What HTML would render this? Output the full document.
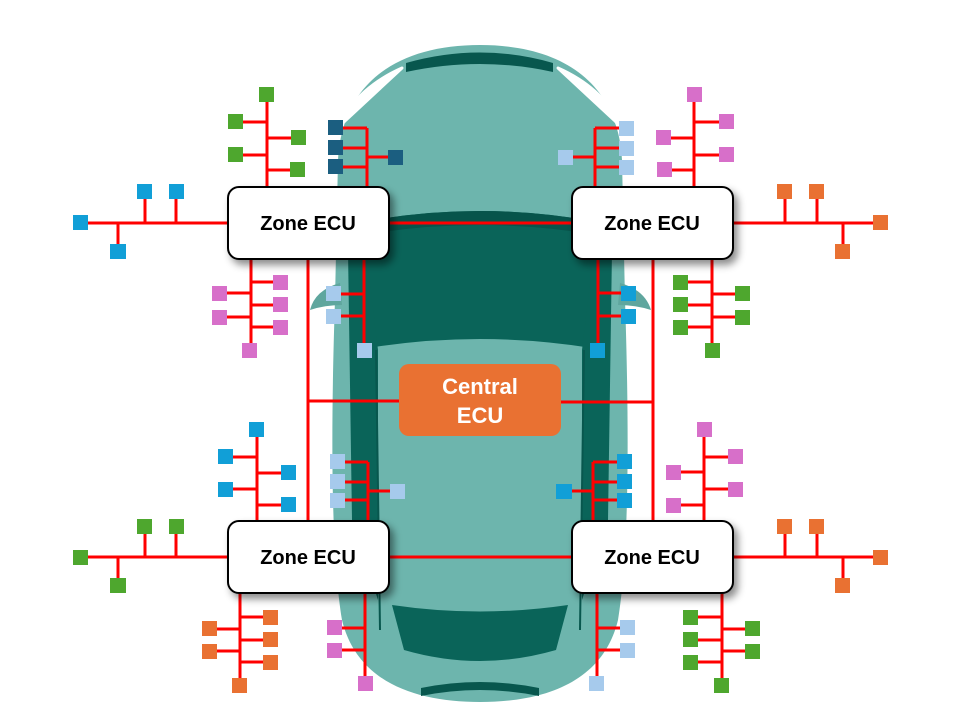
<!DOCTYPE html>
<html><head><meta charset="utf-8"><style>
html,body{margin:0;padding:0;background:#fff;}
svg{display:block;}
.r{stroke:#FF0000;stroke-width:3;fill:none;}
.zt{font-family:"Liberation Sans",sans-serif;font-weight:bold;font-size:20px;fill:#000;}
</style></head><body>
<svg width="960" height="720" viewBox="0 0 960 720" xmlns="http://www.w3.org/2000/svg">
<defs>
<filter id="sh" x="-20%" y="-20%" width="150%" height="160%"><feDropShadow dx="4" dy="5" stdDeviation="4" flood-color="#000" flood-opacity="0.45"/></filter>
</defs>
<!-- car -->
<path d="M 480 45 C 565 45 618 85 622 160 L 625 300 C 630 450 628 560 618 620 C 603 682 545 702 480 702 C 415 702 357 682 342 620 C 332 560 330 450 335 300 L 338 160 C 342 85 395 45 480 45 Z" fill="#6DB5AD"/>
<path d="M 406 63 Q 480 42 553 63 L 553 72 Q 480 56 406 72 Z" fill="#08574E"/>
<path d="M 344 122 C 350 100 375 80 402 68 L 346 120 Z" fill="#fff" stroke="#fff" stroke-width="3" stroke-linejoin="round"/>
<path d="M 616 122 C 610 100 585 80 558 68 L 614 120 Z" fill="#fff" stroke="#fff" stroke-width="3" stroke-linejoin="round"/>
<!-- mirrors -->
<path d="M 340 283 Q 315 290 310 310 Q 325 305 342 305 Z" fill="#5FA69E"/>
<path d="M 620 283 Q 645 290 651 310 Q 636 305 618 305 Z" fill="#5FA69E"/>
<!-- windshield -->
<path d="M 362 222 Q 480 200 598 222 L 592 348 Q 480 330 368 348 Z" fill="#0A6459"/>
<path d="M 362 222 Q 480 200 598 222 L 597 235 Q 480 215 363 235 Z" fill="#07544B"/>
<!-- side dark strips -->
<path d="M 348 250 L 366 250 L 378 350 L 378 600 L 352 520 Z" fill="#0A6459"/>
<path d="M 612 250 L 594 250 L 582 350 L 582 600 L 608 520 Z" fill="#0A6459"/>
<path d="M 376 350 L 380 630 M 584 350 L 580 630" stroke="#08574E" stroke-width="2"/>
<!-- rear window -->
<path d="M 392 605 Q 480 618 568 605 L 556 650 Q 480 672 404 650 Z" fill="#0A6459"/>
<path d="M 421 688 Q 480 676 539 688 L 539 696 Q 480 684 421 696 Z" fill="#08574E"/>

<!-- long verticals & center buses -->
<path class="r" d="M308 259 V521 M653 259 V521 M308 401 H399 M561 402 H653 M389 223 H571 M389 557 H571"/>

<!-- TL -->
<path class="r" d="M80 223 H227 M145 223 V199 M176 223 V199 M118 223 V244
M267 187 V102 M267 122 H243 M267 155 H243 M267 138 H291 M267 170 H290
M367 187 V128 M367 128 H343 M367 148 H343 M367 167 H343 M367 157 H388
M251 259 V343 M251 282 H273 M251 305 H273 M251 327 H273 M251 293 H227 M251 317 H227
M364 259 V343 M364 294 H341 M364 316 H341"/>
<g fill="#119FD7"><rect x="73" y="215" width="15" height="15"/><rect x="137" y="184" width="15" height="15"/><rect x="169" y="184" width="15" height="15"/><rect x="110" y="244" width="16" height="15"/></g>
<g fill="#4EA72E"><rect x="259" y="87" width="15" height="15"/><rect x="228" y="114" width="15" height="15"/><rect x="228" y="147" width="15" height="15"/><rect x="291" y="130" width="15" height="15"/><rect x="290" y="162" width="15" height="15"/></g>
<g fill="#1B5E80"><rect x="328" y="120" width="15" height="15"/><rect x="328" y="140" width="15" height="15"/><rect x="328" y="159" width="15" height="15"/><rect x="388" y="150" width="15" height="15"/></g>
<g fill="#D76FC9"><rect x="242" y="343" width="15" height="15"/><rect x="273" y="275" width="15" height="15"/><rect x="273" y="297" width="15" height="15"/><rect x="273" y="320" width="15" height="15"/><rect x="212" y="286" width="15" height="15"/><rect x="212" y="310" width="15" height="15"/></g>
<g fill="#A6CAEC"><rect x="357" y="343" width="15" height="15"/><rect x="326" y="286" width="15" height="15"/><rect x="326" y="309" width="15" height="15"/></g>

<!-- TR -->
<path class="r" d="M733 223 H880 M785 223 V199 M817 223 V199 M843 223 V244
M595 187 V128 M595 128 H619 M595 148 H619 M595 167 H619 M595 157 H573
M694 187 V102 M694 122 H719 M694 155 H719 M694 138 H671 M694 170 H672
M598 259 V343 M598 293 H621 M598 316 H621
M712 259 V343 M712 282 H688 M712 305 H688 M712 327 H688 M712 294 H735 M712 317 H735"/>
<g fill="#E97132"><rect x="873" y="215" width="15" height="15"/><rect x="777" y="184" width="15" height="15"/><rect x="809" y="184" width="15" height="15"/><rect x="835" y="244" width="15" height="15"/></g>
<g fill="#A6CAEC"><rect x="619" y="121" width="15" height="15"/><rect x="619" y="141" width="15" height="15"/><rect x="619" y="160" width="15" height="15"/><rect x="558" y="150" width="15" height="15"/></g>
<g fill="#D76FC9"><rect x="687" y="87" width="15" height="15"/><rect x="719" y="114" width="15" height="15"/><rect x="719" y="147" width="15" height="15"/><rect x="656" y="130" width="15" height="15"/><rect x="657" y="162" width="15" height="15"/></g>
<g fill="#119FD7"><rect x="590" y="343" width="15" height="15"/><rect x="621" y="286" width="15" height="15"/><rect x="621" y="309" width="15" height="15"/></g>
<g fill="#4EA72E"><rect x="705" y="343" width="15" height="15"/><rect x="673" y="275" width="15" height="15"/><rect x="673" y="297" width="15" height="15"/><rect x="673" y="320" width="15" height="15"/><rect x="735" y="286" width="15" height="15"/><rect x="735" y="310" width="15" height="15"/></g>

<!-- BL -->
<path class="r" d="M80 557 H227 M145 557 V534 M176 557 V534 M118 557 V578
M257 521 V437 M257 457 H233 M257 489 H233 M257 473 H281 M257 505 H281
M368 521 V462 M368 462 H345 M368 482 H345 M368 500 H345 M368 491 H390
M240 593 V678 M240 617 H263 M240 640 H263 M240 662 H263 M240 629 H217 M240 651 H217
M365 593 V676 M365 628 H342 M365 650 H342"/>
<g fill="#4EA72E"><rect x="73" y="550" width="15" height="15"/><rect x="137" y="519" width="15" height="15"/><rect x="169" y="519" width="15" height="15"/><rect x="110" y="578" width="16" height="15"/></g>
<g fill="#119FD7"><rect x="249" y="422" width="15" height="15"/><rect x="218" y="449" width="15" height="15"/><rect x="218" y="482" width="15" height="15"/><rect x="281" y="465" width="15" height="15"/><rect x="281" y="497" width="15" height="15"/></g>
<g fill="#A6CAEC"><rect x="330" y="454" width="15" height="15"/><rect x="330" y="474" width="15" height="15"/><rect x="330" y="493" width="15" height="15"/><rect x="390" y="484" width="15" height="15"/></g>
<g fill="#E97132"><rect x="232" y="678" width="15" height="15"/><rect x="263" y="610" width="15" height="15"/><rect x="263" y="632" width="15" height="15"/><rect x="263" y="655" width="15" height="15"/><rect x="202" y="621" width="15" height="15"/><rect x="202" y="644" width="15" height="15"/></g>
<g fill="#D76FC9"><rect x="358" y="676" width="15" height="15"/><rect x="327" y="620" width="15" height="15"/><rect x="327" y="643" width="15" height="15"/></g>

<!-- BR -->
<path class="r" d="M733 557 H880 M785 557 V534 M817 557 V534 M843 557 V578
M593 521 V462 M593 462 H617 M593 482 H617 M593 500 H617 M593 491 H572
M704 521 V437 M704 457 H728 M704 489 H728 M704 472 H681 M704 505 H681
M597 593 V676 M597 628 H620 M597 650 H620
M722 593 V678 M722 617 H698 M722 640 H698 M722 662 H698 M722 629 H745 M722 651 H745"/>
<g fill="#E97132"><rect x="873" y="550" width="15" height="15"/><rect x="777" y="519" width="15" height="15"/><rect x="809" y="519" width="15" height="15"/><rect x="835" y="578" width="15" height="15"/></g>
<g fill="#119FD7"><rect x="617" y="454" width="15" height="15"/><rect x="617" y="474" width="15" height="15"/><rect x="617" y="493" width="15" height="15"/><rect x="556" y="484" width="16" height="15"/></g>
<g fill="#D76FC9"><rect x="697" y="422" width="15" height="15"/><rect x="728" y="449" width="15" height="15"/><rect x="728" y="482" width="15" height="15"/><rect x="666" y="465" width="15" height="15"/><rect x="666" y="498" width="15" height="15"/></g>
<g fill="#A6CAEC"><rect x="589" y="676" width="15" height="15"/><rect x="620" y="620" width="15" height="15"/><rect x="620" y="643" width="15" height="15"/></g>
<g fill="#4EA72E"><rect x="714" y="678" width="15" height="15"/><rect x="683" y="610" width="15" height="15"/><rect x="683" y="632" width="15" height="15"/><rect x="683" y="655" width="15" height="15"/><rect x="745" y="621" width="15" height="15"/><rect x="745" y="644" width="15" height="15"/></g>

<!-- Zone ECU boxes -->
<g filter="url(#sh)" fill="#fff" stroke="#000" stroke-width="2">
<rect x="228" y="187" width="161" height="72" rx="11"/>
<rect x="572" y="187" width="161" height="72" rx="11"/>
<rect x="228" y="521" width="161" height="72" rx="11"/>
<rect x="572" y="521" width="161" height="72" rx="11"/>
</g>
<g class="zt" text-anchor="middle">
<text x="308" y="230">Zone ECU</text>
<text x="652" y="230">Zone ECU</text>
<text x="308" y="564">Zone ECU</text>
<text x="652" y="564">Zone ECU</text>
</g>
<!-- Central ECU -->
<rect x="399" y="364" width="162" height="72" rx="10" fill="#E97132"/>
<g font-family="Liberation Sans, sans-serif" font-weight="bold" font-size="22" fill="#fff" text-anchor="middle">
<text x="480" y="394">Central</text>
<text x="480" y="423">ECU</text>
</g>
</svg>
</body></html>
